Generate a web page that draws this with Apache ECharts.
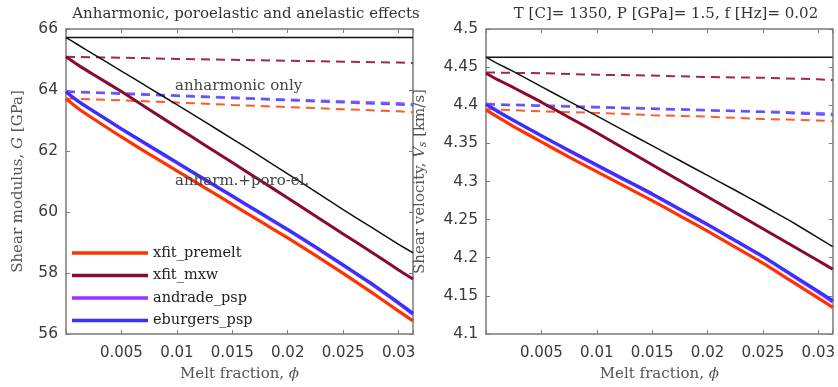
<!DOCTYPE html>
<html><head><meta charset="utf-8">
<script src="https://cdn.jsdelivr.net/npm/echarts@6/dist/echarts.min.js"></script>
<style>html,body{margin:0;padding:0;background:#fff}#c{width:838px;height:387px}</style>
</head><body><div id="c"></div>
<script>
// ---- data ----
const phi = [0, 0.001, 0.0025, 0.005, 0.0075, 0.01, 0.0125, 0.015, 0.0175, 0.02, 0.0225, 0.025, 0.0275, 0.03, 0.0313];
const phiDash = [0, 0.005, 0.01, 0.015, 0.02, 0.025, 0.03, 0.0313];
const phiFlat = [0, 0.0313];

// Left panel: shear modulus G [GPa]
const G_anharmOnlyBlack = [65.72, 65.72];
const G_anharmPoro = [65.72, 65.50, 65.17, 64.62, 64.07, 63.52, 62.96, 62.40, 61.83, 61.25, 60.67, 60.08, 59.51, 58.94, 58.66];
const G_premelt = [63.71, 63.42, 63.05, 62.46, 61.90, 61.35, 60.80, 60.25, 59.70, 59.15, 58.58, 57.99, 57.38, 56.75, 56.43];
const G_mxw = [65.09, 64.84, 64.50, 63.95, 63.36, 62.78, 62.20, 61.62, 61.04, 60.46, 59.87, 59.28, 58.70, 58.10, 57.80];
const G_andrade = [63.95, 63.66, 63.30, 62.72, 62.16, 61.61, 61.06, 60.51, 59.96, 59.41, 58.84, 58.25, 57.65, 57.00, 56.64];
const G_eburgers = [63.93, 63.65, 63.30, 62.73, 62.18, 61.63, 61.08, 60.53, 59.98, 59.43, 58.86, 58.27, 57.67, 57.03, 56.68];
const G_premelt_anh = [63.72, 63.66, 63.59, 63.51, 63.44, 63.37, 63.30, 63.27];
const G_mxw_anh = [65.09, 65.06, 65.02, 64.99, 64.96, 64.93, 64.90, 64.88];
const G_andrade_anh = [63.96, 63.90, 63.83, 63.76, 63.69, 63.63, 63.57, 63.55];
const G_eburgers_anh = [63.94, 63.87, 63.80, 63.73, 63.66, 63.59, 63.52, 63.50];

// Right panel: shear velocity Vs [km/s]
const V_anharmOnlyBlack = [4.463, 4.463];
const V_anharmPoro = [4.463, 4.455, 4.444, 4.4245, 4.405, 4.386, 4.3665, 4.347, 4.3275, 4.308, 4.2885, 4.2685, 4.248, 4.226, 4.2145];
const V_premelt = [4.394, 4.385, 4.372, 4.352, 4.332, 4.313, 4.294, 4.275, 4.255, 4.235, 4.214, 4.193, 4.170, 4.147, 4.135];
const V_mxw = [4.442, 4.434, 4.423, 4.404, 4.384, 4.364, 4.343, 4.322, 4.301, 4.280, 4.259, 4.238, 4.217, 4.196, 4.185];
const V_andrade = [4.402, 4.393, 4.380, 4.360, 4.340, 4.321, 4.302, 4.283, 4.263, 4.243, 4.222, 4.201, 4.178, 4.155, 4.142];
const V_eburgers = [4.401, 4.392, 4.380, 4.360, 4.341, 4.322, 4.303, 4.284, 4.264, 4.244, 4.223, 4.202, 4.179, 4.156, 4.144];
const V_premelt_anh = [4.395, 4.392, 4.390, 4.387, 4.385, 4.382, 4.380, 4.379];
const V_mxw_anh = [4.443, 4.442, 4.440, 4.439, 4.437, 4.436, 4.434, 4.433];
const V_andrade_anh = [4.402, 4.400, 4.398, 4.396, 4.394, 4.392, 4.390, 4.389];
const V_eburgers_anh = [4.401, 4.399, 4.397, 4.395, 4.393, 4.391, 4.388, 4.387];

const modelNames = ['xfit_premelt', 'xfit_mxw', 'andrade_psp', 'eburgers_psp'];
const xTicks = [0.005, 0.01, 0.015, 0.02, 0.025, 0.03];
const leftTitle = 'Anharmonic, poroelastic and anelastic effects';
const rightTitle = 'T [C]= 1350, P [GPa]= 1.5, f [Hz]= 0.02';

// ---- styling ----
const colors = {premelt: '#ff3300', mxw: '#8a0a2e', andrade: '#9933ff', eburgers: '#3333ff'};
const dashColors = {premelt: '#ff5a2a', mxw: '#a3264f', andrade: '#9b55ff', eburgers: '#5555ff'};
const serif = 'DejaVu Serif';
const sans = 'DejaVu Sans';
const axisGray = '#7a7a7a';
const txt = '#3a3a3a';

const zip = (xs, ys) => xs.map((x, i) => [x, ys[i]]);

function xAxes(gi) {
  const base = {gridIndex: gi, type: 'value', min: 0, max: 0.0313, interval: 0.005,
    splitLine: {show: false},
    axisLine: {show: true, onZero: false, lineStyle: {color: axisGray, width: 1.5}},
    axisTick: {show: true, inside: true, length: 4, lineStyle: {color: axisGray}}};
  return [
    Object.assign({}, base, {position: 'bottom',
      name: 'Melt fraction, {i|ϕ}', nameLocation: 'middle', nameGap: 33,
      nameTextStyle: {fontFamily: serif, fontSize: 15, color: '#555', rich: {i: {fontFamily: serif, fontStyle: 'italic', fontSize: 15, color: '#555'}}},
      axisLabel: {fontFamily: sans, fontSize: 15, color: txt, margin: 12,
        formatter: v => (xTicks.some(t => Math.abs(t - v) < 1e-9) ? String(+v.toFixed(3)) : '')}}),
    Object.assign({}, base, {position: 'top', axisLabel: {show: false}})
  ];
}
function yAxes(gi, min, max, interval, name, gap, fmt) {
  const base = {gridIndex: gi, type: 'value', min: min, max: max, interval: interval,
    splitLine: {show: false},
    axisLine: {show: true, onZero: false, lineStyle: {color: axisGray, width: 1.5}},
    axisTick: {show: true, inside: true, length: 4, lineStyle: {color: axisGray}}};
  return [
    Object.assign({}, base, {position: 'left', name: name, nameLocation: 'middle', nameGap: gap, nameRotate: 90,
      nameTextStyle: {fontFamily: serif, fontSize: 15, color: '#555',
        rich: {i: {fontFamily: serif, fontStyle: 'italic', fontSize: 15, color: '#555'},
               s: {fontFamily: serif, fontStyle: 'italic', fontSize: 10.5, color: '#555', verticalAlign: 'bottom', padding: [6, 0, 0, 0]}}},
      axisLabel: {fontFamily: sans, fontSize: 15.5, color: txt, margin: 8, formatter: fmt}}),
    Object.assign({}, base, {position: 'right', axisLabel: {show: false}})
  ];
}

function panelSeries(gi, d) {
  const xi = gi * 2, yi = gi * 2;
  const dash = (name, data, col) => ({name: name, type: 'line', xAxisIndex: xi, yAxisIndex: yi, data: zip(phiDash, data),
    showSymbol: false, smooth: false, silent: true, z: 2,
    lineStyle: {color: col, width: 2, type: [9, 6]}, itemStyle: {color: col}});
  const solid = (name, data, col, w, z) => ({name: name, type: 'line', xAxisIndex: xi, yAxisIndex: yi, data: zip(phi, data),
    showSymbol: false, smooth: 0.15, silent: true, z: z,
    lineStyle: {color: col, width: w}, itemStyle: {color: col}});
  return [
    dash('premelt anh', d.premeltAnh, dashColors.premelt),
    dash('mxw anh', d.mxwAnh, dashColors.mxw),
    dash('andrade anh', d.andradeAnh, dashColors.andrade),
    dash('eburgers anh', d.eburgersAnh, dashColors.eburgers),
    {name: 'black anh', type: 'line', xAxisIndex: xi, yAxisIndex: yi, data: zip(phiFlat, d.flat), showSymbol: false, silent: true, z: 3,
      lineStyle: {color: '#111', width: 1.5}, itemStyle: {color: '#111'}},
    solid('black poro', d.poro, '#111', 1.5, 3),
    solid(modelNames[0], d.premelt, colors.premelt, 3.2, 4),
    solid(modelNames[1], d.mxw, colors.mxw, 3, 4),
    solid(modelNames[2], d.andrade, colors.andrade, 3.2, 4),
    solid(modelNames[3], d.eburgers, colors.eburgers, 3, 5)
  ];
}

const chart = echarts.init(document.getElementById('c'), null, {renderer: 'canvas'});
const option = {
  animation: false,
  backgroundColor: '#fff',
  title: [
    {text: leftTitle, left: 241, top: 2, textAlign: 'center', textStyle: {fontFamily: serif, fontSize: 15, fontWeight: 'normal', color: '#333'}},
    {text: rightTitle, left: 661, top: 2, textAlign: 'center', textStyle: {fontFamily: serif, fontSize: 15, fontWeight: 'normal', color: '#333'}}
  ],
  grid: [
    {left: 66, top: 29, width: 347, height: 306},
    {left: 486, top: 29, width: 349, height: 306}
  ],
  xAxis: xAxes(0).concat(xAxes(1)),
  yAxis: yAxes(0, 56, 66, 2, 'Shear modulus, {i|G} [GPa]', 40, v => String(v))
    .concat(yAxes(1, 4.1, 4.5, 0.05, 'Shear velocity, {i|V}{s|s} [km/s]', 57, v => String(+v.toFixed(2)))),
  legend: {
    data: modelNames, orient: 'vertical', left: 72, top: 244, padding: 0, icon: 'rect',
    itemWidth: 76, itemHeight: 3.5, itemGap: 4.5,
    textStyle: {fontFamily: serif, fontSize: 14.5, color: '#222', lineHeight: 18},
    selectedMode: false
  },
  series: panelSeries(0, {premeltAnh: G_premelt_anh, mxwAnh: G_mxw_anh, andradeAnh: G_andrade_anh, eburgersAnh: G_eburgers_anh,
      flat: G_anharmOnlyBlack, poro: G_anharmPoro, premelt: G_premelt, mxw: G_mxw, andrade: G_andrade, eburgers: G_eburgers})
    .concat(panelSeries(1, {premeltAnh: V_premelt_anh, mxwAnh: V_mxw_anh, andradeAnh: V_andrade_anh, eburgersAnh: V_eburgers_anh,
      flat: V_anharmOnlyBlack, poro: V_anharmPoro, premelt: V_premelt, mxw: V_mxw, andrade: V_andrade, eburgers: V_eburgers})),
  graphic: [
    {type: 'text', left: 175, top: 79, z: 100, style: {text: 'anharmonic only', font: '15px "DejaVu Serif"', fill: '#444'}},
    {type: 'text', left: 175, top: 174, z: 100, style: {text: 'anharm.+poro-el.', font: '15px "DejaVu Serif"', fill: '#444'}}
  ]
};
option.xAxis[2].gridIndex = 1; option.xAxis[3].gridIndex = 1;
option.yAxis[2].gridIndex = 1; option.yAxis[3].gridIndex = 1;
option.series.forEach((s, i) => { const g = i < 10 ? 0 : 1; s.xAxisIndex = g * 2; s.yAxisIndex = g * 2; });
chart.setOption(option);
</script></body></html>
